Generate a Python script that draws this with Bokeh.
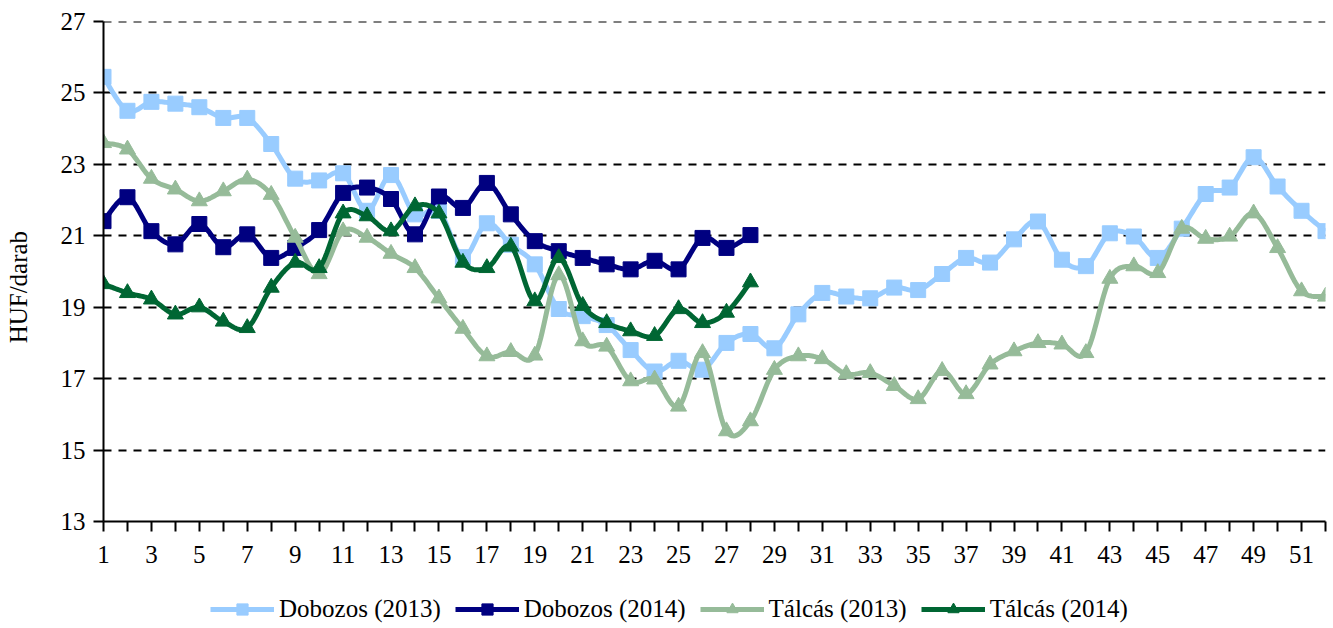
from bokeh.plotting import figure
from bokeh.layouts import column
from bokeh.models import (Range1d, FixedTicker, Legend, LegendItem, ColumnDataSource,
                          Span)
from bokeh.embed import file_html
from bokeh.resources import INLINE

# ---------------- data ----------------
weeks_2013 = list(range(1, 53))
weeks_2014 = list(range(1, 29))
dobozos_2013 = [25.45, 24.5, 24.75, 24.7, 24.6, 24.3, 24.3, 23.57, 22.6, 22.55,
                22.75, 21.7, 22.7, 21.6, 21.7, 20.4, 21.35, 20.75, 20.2, 18.95,
                18.75, 18.5, 17.8, 17.2, 17.5, 17.25, 18.0, 18.25, 17.85, 18.8,
                19.4, 19.3, 19.25, 19.55, 19.48, 19.93, 20.38, 20.25, 20.9, 21.4,
                20.33, 20.15, 21.07, 20.98, 20.38, 21.2, 22.17, 22.35, 23.2, 22.38,
                21.7, 21.13]
dobozos_2014 = [21.41, 22.08, 21.13, 20.76, 21.33, 20.68, 21.04, 20.38, 20.66, 21.16,
                22.2, 22.35, 22.03, 21.04, 22.1, 21.78, 22.48, 21.6, 20.85, 20.57,
                20.38, 20.2, 20.06, 20.3, 20.06, 20.94, 20.66, 21.02]
talcas_2013 = [23.6, 23.42, 22.6, 22.3, 21.97, 22.25, 22.58, 22.15, 20.95, 19.93,
               21.13, 20.95, 20.5, 20.1, 19.25, 18.4, 17.63, 17.75, 17.65, 19.9,
               18.05, 17.9, 16.93, 16.98, 16.22, 17.72, 15.53, 15.81, 17.25, 17.63,
               17.55, 17.13, 17.16, 16.8, 16.43, 17.22, 16.57, 17.4, 17.77, 18.0,
               17.96, 17.72, 19.8, 20.15, 19.96, 21.2, 20.92, 20.98, 21.63, 20.66,
               19.45, 19.3]
talcas_2014 = [19.65, 19.4, 19.22, 18.8, 19.0, 18.6, 18.42, 19.55, 20.25, 20.1,
               21.63, 21.55, 21.13, 21.83, 21.63, 20.25, 20.1, 20.7, 19.17, 20.38,
               19.04, 18.56, 18.33, 18.2, 18.95, 18.56, 18.85, 19.7]
series_names = ["Dobozos (2013)", "Dobozos (2014)", "Tálcás (2013)", "Tálcás (2014)"]
y_ticks = [13, 15, 17, 19, 21, 23, 25, 27]
y_label = "HUF/darab"

# ---------------- styles ----------------
FONT = "Liberation Serif"
colors = ["#99CCFF", "#000080", "#96BB99", "#006633"]
markers = ["square", "square", "triangle", "triangle"]
msizes = [15, 15, 16, 16]


def smooth(xs, ys, n=16):
    """Excel-like smoothed line (Catmull-Rom via cubic Bezier)."""
    px, py = [], []
    N = len(xs)
    for i in range(N - 1):
        x0, y0 = (xs[i - 1], ys[i - 1]) if i > 0 else (xs[i], ys[i])
        x1, y1 = xs[i], ys[i]
        x2, y2 = xs[i + 1], ys[i + 1]
        x3, y3 = (xs[i + 2], ys[i + 2]) if i + 2 < N else (xs[i + 1], ys[i + 1])
        c1x, c1y = x1 + (x2 - x0) / 6.0, y1 + (y2 - y0) / 6.0
        c2x, c2y = x2 - (x3 - x1) / 6.0, y2 - (y3 - y1) / 6.0
        for k in range(n):
            t = k / n
            a = (1 - t) ** 3
            b = 3 * (1 - t) ** 2 * t
            c = 3 * (1 - t) * t ** 2
            d = t ** 3
            px.append(a * x1 + b * c1x + c * c2x + d * x2)
            py.append(a * y1 + b * c1y + c * c2y + d * y2)
    px.append(xs[-1])
    py.append(ys[-1])
    return px, py


p = figure(width=1333, height=580, output_backend="svg", toolbar_location=None,
           x_range=Range1d(weeks_2013[0], weeks_2013[-1]),
           y_range=Range1d(y_ticks[0], y_ticks[-1]),
           min_border_left=103, min_border_right=8, min_border_top=21,
           min_border_bottom=59)
p.outline_line_color = None
p.background_fill_color = "white"

# grid
p.xgrid.grid_line_color = None
p.ygrid.grid_line_color = "black"
p.ygrid.grid_line_width = 2
p.ygrid.grid_line_dash = "8 7"
p.add_layout(Span(location=y_ticks[-1], dimension="width", line_color="black",
                  line_width=2, line_dash="8 7"))

# axes
p.yaxis.ticker = FixedTicker(ticks=y_ticks)
p.xaxis.ticker = FixedTicker(ticks=weeks_2013)
p.xaxis.major_label_overrides = {w: ("" if w % 2 == 0 else str(w)) for w in weeks_2013}
for ax in (p.xaxis[0], p.yaxis[0]):
    ax.axis_line_color = "black"
    ax.axis_line_width = 2
    ax.major_tick_line_color = "black"
    ax.major_tick_line_width = 2
    ax.major_tick_in = 0
    ax.minor_tick_line_color = None
    ax.major_label_text_font = FONT
    ax.major_label_text_font_size = "25px"
    ax.major_label_text_color = "black"
p.xaxis.major_tick_out = 10
p.xaxis.major_label_standoff = 14
p.yaxis.major_tick_out = 10
p.yaxis.major_label_standoff = 8
# trailing no-break spaces shift the centred title slightly downwards, as in the original
p.yaxis.axis_label = y_label + "\u00a0" * 5
p.yaxis.axis_label_text_font = FONT
p.yaxis.axis_label_text_font_size = "25px"
p.yaxis.axis_label_text_font_style = "normal"
p.yaxis.axis_label_text_color = "black"
p.yaxis.axis_label_standoff = 26

all_x = [weeks_2013, weeks_2014, weeks_2013, weeks_2014]
all_y = [dobozos_2013, dobozos_2014, talcas_2013, talcas_2014]

for xs, ys, col, mk, ms in zip(all_x, all_y, colors, markers, msizes):
    sx, sy = smooth(xs, ys)
    p.line(sx, sy, line_color=col, line_width=5, line_join="round")
    src = ColumnDataSource(dict(x=xs, y=ys))
    p.scatter("x", "y", source=src, marker=mk, size=ms,
              fill_color=col, line_color=col, line_width=1)

# ---------------- legend strip ----------------
# the series are drawn again here only so the legend has glyphs; the ranges keep
# them out of view, so only the legend itself shows.
lg = figure(width=1333, height=48, output_backend="svg", toolbar_location=None,
            x_axis_type=None, y_axis_type=None, x_range=Range1d(-2, -1),
            y_range=Range1d(-2, -1), min_border_left=0, min_border_right=0,
            min_border_top=0, min_border_bottom=0)
lg.outline_line_color = None
lg.xgrid.grid_line_color = None
lg.ygrid.grid_line_color = None
items = []
for name, xs, ys, col, mk, ms in zip(series_names, all_x, all_y, colors, markers, msizes):
    lr = lg.line(xs, ys, line_color=col, line_width=5)
    mr = lg.scatter(xs, ys, marker=mk, size=ms, fill_color=col, line_color=col)
    items.append(LegendItem(label=name, renderers=[lr, mr]))
legend = Legend(items=items, orientation="horizontal", location=(107, 5),
                glyph_width=64, glyph_height=28, label_standoff=5, spacing=14,
                padding=0, margin=0, border_line_color=None,
                background_fill_alpha=0,
                label_text_font=FONT, label_text_font_size="25px",
                label_text_color="black")
lg.add_layout(legend, "center")

open("out.html", "w").write(file_html(column(p, lg, spacing=0), INLINE))
